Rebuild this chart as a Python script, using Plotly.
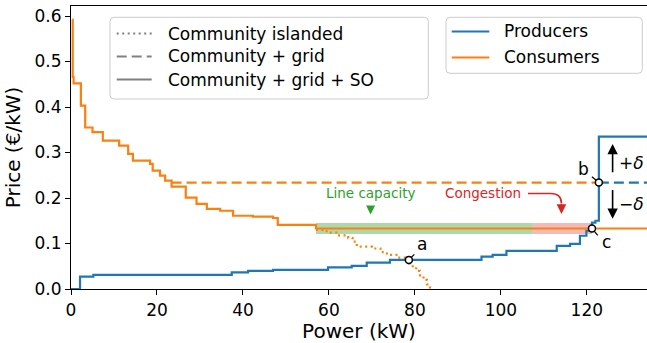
import plotly.graph_objects as go

# ---------------- data ----------------
# consumer bid curve: step start (kW) and price (€/kW)
consumer_kw = [0.3, 0.4, 0.6, 2.3, 3.3, 5.0, 7.4, 11.2, 13.3, 14.4, 18.4, 19.0, 20.7, 21.9,
               23.4, 26.7, 29.2, 31.6, 34.7, 37.7, 42.3, 47.0, 48.1, 57.0, 58.5, 60.2, 62.0,
               64.5, 65.5, 66.5, 70.0, 72.0, 73.5, 76.0, 78.6, 79.5, 80.3, 81.2, 82.0, 82.8, 83.5]
consumer_price = [0.592, 0.466, 0.452, 0.403, 0.355, 0.345, 0.326, 0.315, 0.297, 0.282, 0.275,
                  0.260, 0.249, 0.238, 0.225, 0.201, 0.187, 0.176, 0.172, 0.161, 0.159, 0.156,
                  0.141, 0.130, 0.127, 0.124, 0.118, 0.112, 0.104, 0.093, 0.089, 0.081, 0.075,
                  0.069, 0.056, 0.048, 0.040, 0.030, 0.020, 0.010, 0.0]
# producer offer curve
producer_kw = [0.0, 2.1, 5.2, 37.4, 41.2, 47.0, 59.8, 65.3, 68.8, 74.2, 95.5, 98.1, 101.3,
               113.0, 116.1, 118.4, 119.9, 121.2, 122.0, 122.8]
producer_price = [0.0, 0.027, 0.031, 0.0365, 0.040, 0.042, 0.0475, 0.051, 0.058, 0.064, 0.071,
                  0.075, 0.084, 0.095, 0.099, 0.117, 0.128, 0.146, 0.150, 0.335]
power_max = 134.0
grid_price = 0.234
delta = 0.101
line_capacity_kw = 50.4

x_ticks = [0, 20, 40, 60, 80, 100, 120]
y_ticks = [0.0, 0.1, 0.2, 0.3, 0.4, 0.5, 0.6]
y_ticklabels = ["0.0", "0.1", "0.2", "0.3", "0.4", "0.5", "0.6"]

legend_styles = ["Community islanded", "Community + grid", "Community + grid + SO"]
legend_dashes = ["2px,3.5px", "10px,5px", "solid"]
legend_parties = ["Producers", "Consumers"]

ORANGE = "#ff7f0e"
BLUE = "#1f77b4"
FONT = "DejaVu Sans"
FS = 17
LW = 2.2

W, H = 647, 343
ML, MR, MT, MB = 71, 0, 6, 54
PW, PH = W - ML - MR, H - MT - MB

so_price = grid_price - delta


def price_at(kws, prices, x):
    p = prices[0]
    for k, v in zip(kws, prices):
        if k <= x:
            p = v
    return p


i_grid = next(i for i, p in enumerate(consumer_price) if p < grid_price)
i_so = next(i for i, p in enumerate(consumer_price) if p < so_price)
x_grid_cross = consumer_kw[i_grid]
x_so_cross = consumer_kw[i_so]
b_x = next(k for k, p in zip(producer_kw, producer_price) if p >= grid_price)
c_x = next(k for k, p in zip(producer_kw, producer_price) if p >= so_price)
a_x = next(k for k, p in zip(consumer_kw, consumer_price)
           if p < price_at(producer_kw, producer_price, k))
a_y = price_at(producer_kw, producer_price, a_x)

fig = go.Figure()

# capacity bands
fig.add_trace(go.Scatter(x=[x_so_cross, x_so_cross + line_capacity_kw], y=[so_price, so_price],
                         mode="lines", line=dict(color="rgba(44,160,44,0.4)", width=11),
                         hoverinfo="skip"))
fig.add_trace(go.Scatter(x=[x_so_cross + line_capacity_kw, c_x], y=[so_price, so_price],
                         mode="lines", line=dict(color="rgba(214,39,40,0.32)", width=11),
                         hoverinfo="skip"))
# islanded consumer curve (dotted)
fig.add_trace(go.Scatter(x=consumer_kw[i_so:], y=consumer_price[i_so:], mode="lines",
                         line=dict(color=ORANGE, width=LW, dash=legend_dashes[0], shape="hv")))
# grid case (dashed)
fig.add_trace(go.Scatter(x=[x_grid_cross, b_x], y=[grid_price, grid_price], mode="lines",
                         line=dict(color=ORANGE, width=LW, dash=legend_dashes[1])))
fig.add_trace(go.Scatter(x=[b_x, power_max], y=[grid_price, grid_price], mode="lines",
                         line=dict(color=BLUE, width=LW, dash=legend_dashes[1])))
# SO case consumers (solid)
fig.add_trace(go.Scatter(x=consumer_kw[:i_so] + [x_so_cross, power_max],
                         y=consumer_price[:i_so] + [so_price, so_price], mode="lines",
                         line=dict(color=ORANGE, width=LW, shape="hv"), name="Consumers"))
# producers (solid)
fig.add_trace(go.Scatter(x=producer_kw + [power_max], y=producer_price + [producer_price[-1]],
                         mode="lines", line=dict(color=BLUE, width=LW, shape="hv"),
                         name="Producers"))
# points a, b, c
fig.add_trace(go.Scatter(x=[a_x, b_x, c_x], y=[a_y, grid_price, so_price], mode="markers",
                         marker=dict(size=7, color="white", line=dict(color="black", width=1.5))))

ann = []
shapes = []
txt = dict(family=FONT, size=FS, color="black")
for (px, py, lbl, dx, dy) in [(a_x, a_y, "a", 12.7, 15.7), (b_x, grid_price, "b", -15.7, 14),
                              (c_x, so_price, "c", 14.4, -13.4)]:
    ann.append(dict(x=px, y=py, text=lbl, showarrow=False, xshift=dx, yshift=dy, font=txt))
    lx = 7 if dx > 0 else -8.5
    ly = -7 if dy > 0 else 8.5
    ann.append(dict(x=px, y=py, text="", showarrow=True, ax=lx, ay=ly, arrowhead=0,
                    arrowwidth=1.2, arrowcolor="black", standoff=3.5))

# +/- delta arrows
ax_d = 126.0
ann.append(dict(x=ax_d, y=grid_price + 0.84 * delta, ax=ax_d, ay=grid_price + 0.19 * delta,
                axref="x", ayref="y", text="", showarrow=True, arrowhead=2, arrowsize=1.3,
                arrowwidth=1.6, arrowcolor="black"))
ann.append(dict(x=ax_d, y=grid_price - 0.79 * delta, ax=ax_d, ay=grid_price - 0.13 * delta,
                axref="x", ayref="y", text="", showarrow=True, arrowhead=2, arrowsize=1.3,
                arrowwidth=1.6, arrowcolor="black"))
ann.append(dict(x=130.4, y=grid_price + 0.43 * delta, text="+<i>δ</i>", showarrow=False, font=txt))
ann.append(dict(x=130.4, y=grid_price - 0.46 * delta, text="−<i>δ</i>", showarrow=False, font=txt))

# Line capacity / Congestion
ann.append(dict(x=69.65, y=0.212, text="Line capacity", showarrow=False,
                font=dict(family=FONT, size=13.5, color="#2ca02c")))
ann.append(dict(x=69.7, y=0.164, ax=69.7, ay=0.181, axref="x", ayref="y", text="",
                showarrow=True, arrowhead=2, arrowsize=1.0, arrowwidth=1.8, arrowcolor="#2ca02c"))
ann.append(dict(x=95.8, y=0.212, text="Congestion", showarrow=False,
                font=dict(family=FONT, size=13.5, color="#d62728")))
ann.append(dict(x=114.1, y=0.165, ax=114.1, ay=0.19, axref="x", ayref="y", text="",
                showarrow=True, arrowhead=2, arrowsize=1.2, arrowwidth=1.6, arrowcolor="#d62728"))
shapes.append(dict(type="path", xref="x", yref="y",
                   path="M 106.3,0.210 L 111.6,0.210 Q 114.1,0.210 114.1,0.188",
                   line=dict(color="#d62728", width=1.6)))


# ---- legends drawn as boxes (pixel positions -> paper coords) ----
def px2x(p):
    return (p - ML) / PW


def px2y(p):
    return 1 - (p - MT) / PH


def rounded_box(x0, y0, x1, y1, r=4):
    X0, X1 = px2x(x0), px2x(x1)
    Y0, Y1 = px2y(y0), px2y(y1)
    rx, ry = r / PW, r / PH
    path = (f"M {X0 + rx},{Y0} L {X1 - rx},{Y0} Q {X1},{Y0} {X1},{Y0 - ry} "
            f"L {X1},{Y1 + ry} Q {X1},{Y1} {X1 - rx},{Y1} L {X0 + rx},{Y1} "
            f"Q {X0},{Y1} {X0},{Y1 + ry} L {X0},{Y0 - ry} Q {X0},{Y0} {X0 + rx},{Y0} Z")
    return dict(type="path", xref="paper", yref="paper", path=path, layer="above",
                fillcolor="rgba(255,255,255,0.8)", line=dict(color="#cccccc", width=1))


def legend_entry(y, label, color, dash, x_line0, x_line1, x_text):
    shapes.append(dict(type="line", xref="paper", yref="paper", layer="above",
                       x0=px2x(x_line0), x1=px2x(x_line1), y0=px2y(y), y1=px2y(y),
                       line=dict(color=color, width=LW, dash=dash)))
    ann.append(dict(xref="paper", yref="paper", x=px2x(x_text), y=px2y(y), text=label,
                    showarrow=False, xanchor="left", yanchor="middle", font=txt))


shapes.append(rounded_box(110, 17.3, 428.3, 99))
for yy, lab, dsh in zip([33.5, 56.5, 79.5], legend_styles, legend_dashes):
    legend_entry(yy, lab, "gray", dsh, 116.7, 151.7, 165.5)

shapes.append(rounded_box(446, 17.3, 642.3, 73.3))
for yy, lab, col in zip([31.5, 57.5], legend_parties, [BLUE, ORANGE]):
    legend_entry(yy, lab, col, "solid", 451.7, 489.3, 501.5)

fig.update_layout(
    width=W, height=H,
    margin=dict(l=ML, r=MR, t=MT, b=MB),
    plot_bgcolor="white", paper_bgcolor="white",
    font=dict(family=FONT, size=FS, color="black"),
    annotations=ann, shapes=shapes, showlegend=False,
    xaxis=dict(range=[0, power_max], tickvals=x_ticks, showgrid=False, zeroline=False,
               showline=True, linecolor="black", linewidth=1.2, mirror=True,
               ticks="outside", ticklen=5, tickwidth=1.2, tickcolor="black",
               title=dict(text="Power (kW)", standoff=6),
               tickfont=dict(family=FONT, size=FS)),
    yaxis=dict(range=[0, 0.622], tickvals=y_ticks, ticktext=y_ticklabels, showgrid=False,
               zeroline=False, showline=True, linecolor="black", linewidth=1.2,
               ticks="outside", ticklen=5, tickwidth=1.2, tickcolor="black",
               title=dict(text="Price (€/kW)", standoff=8),
               tickfont=dict(family=FONT, size=FS)),
)

fig.write_html("out.html", config={"displayModeBar": False},
               post_script="document.body.style.margin='0';document.body.style.overflow='hidden';")
